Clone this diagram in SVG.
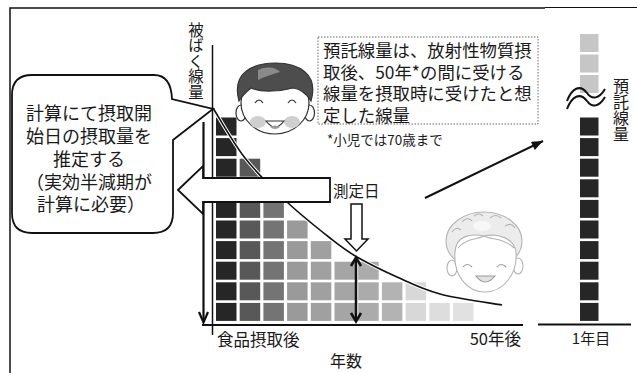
<svg xmlns="http://www.w3.org/2000/svg" width="637" height="373" viewBox="0 0 637 373">
  <defs>
    <style>
      text { font-family: "Noto Sans CJK JP", "Noto Sans", sans-serif; fill: #1a1a1a; }
      .vert { writing-mode: vertical-rl; }
      .ln { fill: none; stroke: #111; }
      .cell rect { width: 20.5px; height: 18px; }
      .c0 { fill: #262626; } .c1 { fill: #585858; } .c2 { fill: #747474; }
      .c3 { fill: #9a9a9a; } .c4 { fill: #a0a0a0; } .c5 { fill: #a5a5a5; }
      .c6 { fill: #ababab; } .c7 { fill: #b3b3b3; } .c8 { fill: #d8d8d8; }
      .c9 { fill: #dddddd; } .c10 { fill: #e1e1e1; }
      .hollow { fill: #fff; stroke: #111; stroke-linejoin: miter; }
    </style>
    <marker id="head" viewBox="0 0 10 8" refX="10" refY="4" markerWidth="6.5" markerHeight="4.5" orient="auto" markerUnits="strokeWidth">
      <path d="M0,0 L10,4 L0,8 Z" fill="#111"/>
    </marker>
    <path id="curve-path" d="M213,108 C218.3,116.3 232.7,142.3 245,158 C257.3,173.7 272.8,188.7 287,202 C301.2,215.3 318.3,228.8 330,238 C341.7,247.2 345.8,250.5 357,257 C368.2,263.5 383.2,270.8 397,277 C410.8,283.2 422.5,289.3 440,294 C457.5,298.7 491.7,303.2 502,305"/>
  </defs>

  <!-- page frame -->
  <path class="ln" d="M10,373 V8 H545" stroke="#333" stroke-width="1.5"/>
  <path class="ln" d="M545,7.5 H637" stroke="#999" stroke-width="1"/>

  <!-- dose blocks per year, fading with time -->
  <g id="dose-grid" class="cell">
    <g class="c0">
      <rect x="216" y="117.5"/><rect x="216" y="138.1"/><rect x="216" y="158.7"/><rect x="216" y="179.3"/><rect x="216" y="199.9"/>
      <rect x="216" y="220.5"/><rect x="216" y="241.1"/><rect x="216" y="261.7"/><rect x="216" y="282.3"/><rect x="216" y="302.9"/>
    </g>
    <g class="c1">
      <rect x="239.7" y="158.7"/><rect x="239.7" y="179.3"/><rect x="239.7" y="199.9"/><rect x="239.7" y="220.5"/>
      <rect x="239.7" y="241.1"/><rect x="239.7" y="261.7"/><rect x="239.7" y="282.3"/><rect x="239.7" y="302.9"/>
    </g>
    <g class="c2">
      <rect x="263.4" y="199.9"/><rect x="263.4" y="220.5"/><rect x="263.4" y="241.1"/><rect x="263.4" y="261.7"/><rect x="263.4" y="282.3"/><rect x="263.4" y="302.9"/>
    </g>
    <g class="c3">
      <rect x="287.1" y="220.5"/><rect x="287.1" y="241.1"/><rect x="287.1" y="261.7"/><rect x="287.1" y="282.3"/><rect x="287.1" y="302.9"/>
    </g>
    <g class="c4">
      <rect x="310.8" y="241.1"/><rect x="310.8" y="261.7"/><rect x="310.8" y="282.3"/><rect x="310.8" y="302.9"/>
    </g>
    <g class="c5"><rect x="334.5" y="261.7"/><rect x="334.5" y="282.3"/><rect x="334.5" y="302.9"/></g>
    <g class="c6"><rect x="358.2" y="261.7"/><rect x="358.2" y="282.3"/><rect x="358.2" y="302.9"/></g>
    <g class="c7"><rect x="381.9" y="282.3"/><rect x="381.9" y="302.9"/></g>
    <g class="c8"><rect x="405.6" y="282.3"/><rect x="405.6" y="302.9"/></g>
    <g class="c9"><rect x="429.3" y="302.9"/></g>
    <g class="c10"><rect x="453" y="302.9"/></g>
  </g>

  <!-- decay curve, with a thin white edge so it reads over dark blocks -->
  <g id="decay-curve" fill="none">
    <use href="#curve-path" stroke="#fff" stroke-width="3.6"/>
    <use href="#curve-path" stroke="#111" stroke-width="1.6"/>
  </g>

  <!-- axes -->
  <g id="axes" class="ln">
    <line x1="212.5" y1="45" x2="212.5" y2="335" stroke-width="1.5"/>
    <line x1="202" y1="325" x2="523" y2="325" stroke-width="2"/>
    <line x1="538" y1="324.5" x2="631" y2="324.5" stroke-width="2"/>
  </g>

  <!-- people -->
  <g id="boy-face" stroke="#333" stroke-width="1.2">
    <ellipse cx="241" cy="113" rx="5" ry="8" fill="#fff"/>
    <ellipse cx="309.5" cy="113" rx="5" ry="8" fill="#fff"/>
    <ellipse cx="275" cy="103" rx="34" ry="31" fill="#fff"/>
    <path d="M239,101 C231,72 254,63 275,63 C299,63 319,74 311,101 C306,93 300,89 293,88 C282,91 262,93 251,88 C246,92 242,96 239,101 Z" fill="#4d4d4d"/>
    <path d="M258,70 C266,66 276,67 280,72 C272,74 264,77 258,80 Z" fill="#8a8a8a" stroke="none"/>
    <ellipse cx="258" cy="122" rx="8" ry="6" fill="#cfcfcf" stroke="none"/>
    <ellipse cx="292" cy="122" rx="8" ry="6" fill="#cfcfcf" stroke="none"/>
    <path d="M255,103 Q259,97 263,103 M288,103 Q292,97 296,103" fill="none"/>
    <path d="M266,121 Q275,133 284,121 Z" fill="#fff"/>
    <path d="M270,127 Q275,131 280,127 Q275,124 270,127 Z" fill="#999" stroke="none"/>
  </g>

  <g id="grandma-face" stroke="#b4b4b4" stroke-width="1.1">
    <ellipse cx="484" cy="241" rx="38" ry="29" fill="#ececec"/>
    <ellipse cx="452" cy="268" rx="5" ry="8" fill="#fff"/>
    <ellipse cx="518" cy="266" rx="5" ry="8" fill="#fff"/>
    <path d="M455,252 C456,236 470,233 484,236 C498,233 514,238 516,252 C518,274 503,292 485,292 C467,292 453,275 455,252 Z" fill="#fff"/>
    <path d="M458,248 C466,238 476,240 484,236 C492,240 504,238 514,248" fill="none"/>
    <path d="M452,232 q4,-6 9,-2 M462,222 q5,-6 10,-1 M490,218 q6,-5 11,0 M505,226 q6,-4 10,2 M474,216 q5,-4 9,0" fill="none"/>
    <ellipse cx="482" cy="226" rx="9" ry="5" fill="#f7f7f7" stroke="none"/>
    <path d="M463,267 Q467,262 472,267 M497,267 Q501,262 506,267" fill="none" stroke="#999"/>
    <path d="M476,276 Q485,288 495,276 Z" fill="#e2e2e2" stroke="#999"/>
  </g>

  <!-- connectors and arrows -->
  <g id="connectors">
    <line class="ln" x1="203.5" y1="122" x2="203.5" y2="322" stroke-width="2.2"/>
    <polyline class="ln" points="199,312 203.5,322.5 208,312" stroke-width="2.2"/>
    <path id="estimate-arrow" class="hollow" stroke-width="1.8" d="M178,190 L203,166 L203,178 L330,178 L330,202 L203,202 L203,214 Z"/>
    <path id="measure-arrow" class="hollow" stroke-width="1.5" d="M351,204 H362 V239 H368 L356.5,251 L345,239 H351 Z"/>
    <line class="ln" x1="356" y1="259" x2="356" y2="320" stroke-width="2.5"/>
    <polyline class="ln" points="351,266 356,257.5 361,266" stroke-width="2.5"/>
    <polyline class="ln" points="351,313 356,321.5 361,313" stroke-width="2.5"/>
    <line class="ln" x1="425" y1="198" x2="543" y2="141" stroke-width="2" marker-end="url(#head)"/>
  </g>

  <!-- speech bubble -->
  <g id="bubble">
    <path d="M32,75 H154 Q171,75 172,99 L213,109 L173,140 V213 Q173,233 153,233 H32 Q12,233 12,213 V95 Q12,75 32,75 Z" fill="#fff" stroke="#111" stroke-width="1.8"/>
    <text font-size="18" text-anchor="middle">
      <tspan x="91" y="120">計算にて摂取開</tspan>
      <tspan x="91" y="143">始日の摂取量を</tspan>
      <tspan x="91" y="166">推定する</tspan>
      <tspan x="91" y="189">（実効半減期が</tspan>
      <tspan x="91" y="211">計算に必要）</tspan>
    </text>
  </g>

  <!-- definition box -->
  <g id="definition">
    <rect x="318" y="37" width="220" height="87" fill="#fff" stroke="#666" stroke-width="1" stroke-dasharray="1.5 1.5"/>
    <text font-size="17.4">
      <tspan x="323" y="57">預託線量は、放射性物質摂</tspan>
      <tspan x="323" y="78.7">取後、50年*の間に受ける</tspan>
      <tspan x="323" y="100.4">線量を摂取時に受けたと想</tspan>
      <tspan x="323" y="122">定した線量</tspan>
    </text>
    <text x="327" y="145" font-size="13.5">*小児では70歳まで</text>
  </g>

  <!-- committed dose column -->
  <g id="committed-column">
    <g fill="#c6c6c6">
      <rect x="580" y="34" width="18.5" height="18"/>
      <rect x="580" y="54.5" width="18.5" height="18"/>
      <rect x="580" y="75" width="18.5" height="18"/>
    </g>
    <g fill="#262626">
      <rect x="580" y="117.5" width="18.5" height="18"/><rect x="580" y="138.1" width="18.5" height="18"/>
      <rect x="580" y="158.7" width="18.5" height="18"/><rect x="580" y="179.3" width="18.5" height="18"/>
      <rect x="580" y="199.9" width="18.5" height="18"/><rect x="580" y="220.5" width="18.5" height="18"/>
      <rect x="580" y="241.1" width="18.5" height="18"/><rect x="580" y="261.7" width="18.5" height="18"/>
      <rect x="580" y="282.3" width="18.5" height="18"/><rect x="580" y="302.9" width="18.5" height="18"/>
    </g>
    <path class="ln" stroke-width="2" d="M567,101 C572,88 580,84 587,93 C592,100 599,99 605,89 M567,109 C572,96 580,92 587,101 C592,108 599,107 605,97"/>
    <text class="vert" x="621" y="78" font-size="16">預託線量</text>
  </g>

  <!-- labels -->
  <g id="labels">
    <text class="vert" x="196" y="22" font-size="15.5">被ばく線量</text>
    <text x="333" y="197" font-size="15.5">測定日</text>
    <text x="217" y="346" font-size="16.5">食品摂取後</text>
    <text x="521" y="345" font-size="16.5" text-anchor="end">50年後</text>
    <text x="591" y="344" font-size="15" text-anchor="middle">1年目</text>
    <text x="346" y="367" font-size="16" text-anchor="middle">年数</text>
  </g>
</svg>
